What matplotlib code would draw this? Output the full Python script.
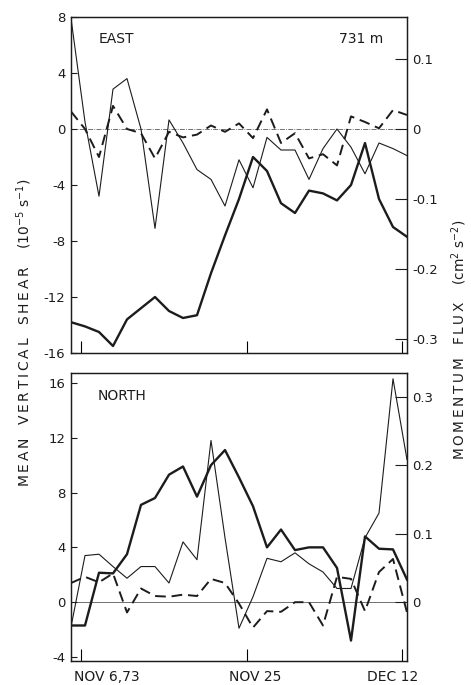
import numpy as np
import matplotlib.pyplot as plt
from matplotlib.transforms import blended_transform_factory

# sample index (about 1.6 days apart), Nov 5 1973 .. Dec 12 1973
idx = np.arange(25)

# EAST component, 731 m
east_shear = [-13.8, -14.1, -14.5, -15.5, -13.6, -12.8, -12.0, -13.0, -13.5, -13.3,
              -10.3, -7.6, -5.0, -2.0, -3.0, -5.3, -6.0, -4.4, -4.6, -5.1,
              -4.0, -1.0, -5.0, -7.0, -7.7]
east_flux = [0.158, 0.010, -0.096, 0.057, 0.072, 0.000, -0.142, 0.013, -0.020, -0.058,
             -0.072, -0.110, -0.044, -0.084, -0.012, -0.030, -0.030, -0.072, -0.028, 0.000,
             -0.026, -0.064, -0.020, -0.028, -0.038]
east_flux2 = [0.025, 0.000, -0.040, 0.033, 0.000, -0.006, -0.042, -0.004, -0.012, -0.008,
              0.005, -0.004, 0.008, -0.013, 0.028, -0.020, -0.006, -0.042, -0.036, -0.052,
              0.018, 0.010, 0.001, 0.027, 0.020]

# NORTH component
north_shear = [-1.7, -1.7, 2.15, 2.1, 3.5, 7.1, 7.6, 9.3, 9.9, 7.7,
               10.0, 11.1, 9.1, 7.0, 4.0, 5.3, 3.8, 4.0, 4.0, 2.5,
               -2.8, 4.8, 3.9, 3.85, 1.65]
north_flux = [-0.036, 0.068, 0.070, 0.052, 0.035, 0.052, 0.052, 0.028, 0.088, 0.062,
              0.236, 0.094, -0.038, 0.008, 0.064, 0.059, 0.072, 0.056, 0.044, 0.020,
              0.020, 0.094, 0.130, 0.326, 0.208]
north_flux2 = [0.028, 0.037, 0.029, 0.042, -0.015, 0.020, 0.009, 0.008, 0.011, 0.009,
               0.034, 0.028, -0.002, -0.037, -0.013, -0.014, 0.000, 0.000, -0.034, 0.037,
               0.034, -0.013, 0.044, 0.063, -0.015]

date_ticks = [0.71, 12.57, 23.64]
date_labels = ['NOV 6,73', 'NOV 25', 'DEC 12']
date_label_pos = [2.57, 13.14, 23.0]

east_yticks = [8, 4, 0, -4, -8, -12, -16]
east_rticks = [0.1, 0, -0.1, -0.2, -0.3]
north_yticks = [16, 12, 8, 4, 0, -4]
north_rticks = [0.3, 0.2, 0.1, 0]

plt.rcParams['font.family'] = 'DejaVu Sans'
ink = '#1c1c1c'


def fmt(v):
    return '0' if v == 0 else ('%g' % v)


def spaced(word):
    # loose lettering like the original hand-lettered labels
    return '\u2009'.join(word)


def panel(ax, shear, flux, flux2, ylim, yticks, rticks, zero_ls):
    ax.axhline(0, color='0.35', lw=0.6, ls=zero_ls, zorder=1)
    ax.plot(idx, shear, color=ink, lw=1.7, zorder=3)
    ax.set_xlim(0, 24)
    ax.set_ylim(*ylim)
    ax.set_yticks(yticks)
    ax.set_yticklabels([fmt(v) for v in yticks])
    ax.set_xticks(date_ticks)
    ax.tick_params(axis='x', direction='in', length=9, width=0.8, labelbottom=False)
    ax.tick_params(axis='y', direction='in', length=4, width=0.8, labelsize=9.5,
                   pad=4, colors=ink)
    for s in ax.spines.values():
        s.set_linewidth(0.9)
        s.set_color(ink)

    ax2 = ax.twinx()
    ax2.plot(idx, flux, color=ink, lw=0.8, zorder=3)
    ax2.plot(idx, flux2, color=ink, lw=1.4, dashes=(5.5, 3), zorder=3)
    ax2.set_ylim(ylim[0] / 50.0, ylim[1] / 50.0)
    ax2.set_yticks(rticks)
    ax2.set_yticklabels([fmt(v) for v in rticks])
    ax2.tick_params(axis='y', direction='in', length=9, width=0.8, labelsize=9.5,
                    pad=4, colors=ink)
    for s in ax2.spines.values():
        s.set_linewidth(0.9)
        s.set_color(ink)
    return ax2


fig = plt.figure(figsize=(4.71, 6.85), dpi=100)
W, H = 471.0, 685.0
ax_e = fig.add_axes([71 / W, 1 - 353 / H, 336 / W, 336 / H])
ax_n = fig.add_axes([71 / W, 1 - 661 / H, 336 / W, 288 / H])

panel(ax_e, east_shear, east_flux, east_flux2, (-16, 8), east_yticks, east_rticks,
      (0, (6, 1.5, 1, 1.5)))
panel(ax_n, north_shear, north_flux, north_flux2, (-4.29, 16.72), north_yticks,
      north_rticks, '-')

ax_e.text(0.083, 0.935, 'EAST', transform=ax_e.transAxes, fontsize=10,
          va='center', ha='left', color=ink)
ax_e.text(0.929, 0.935, '731 m', transform=ax_e.transAxes, fontsize=10,
          va='center', ha='right', color=ink)
ax_n.text(0.080, 0.92, 'NORTH', transform=ax_n.transAxes, fontsize=10,
          va='center', ha='left', color=ink)

trans = blended_transform_factory(ax_n.transData, ax_n.transAxes)
for xp, lab in zip(date_label_pos, date_labels):
    ax_n.text(xp, -0.03, lab, transform=trans, fontsize=10, ha='center', va='top',
              color=ink)

left_label = '   '.join(spaced(w) for w in ['MEAN', 'VERTICAL', 'SHEAR'])
right_label = '   '.join(spaced(w) for w in ['MOMENTUM', 'FLUX'])
fig.text(24 / W, 1 - 333 / H, left_label + '    (10$^{-5}$ s$^{-1}$)',
         rotation=90, ha='center', va='center', fontsize=10, color=ink)
fig.text(459 / W, 1 - 340 / H, right_label + '    (cm$^{2}$ s$^{-2}$)',
         rotation=90, ha='center', va='center', fontsize=9.8, color=ink)

fig.savefig('out.png', dpi=100)
